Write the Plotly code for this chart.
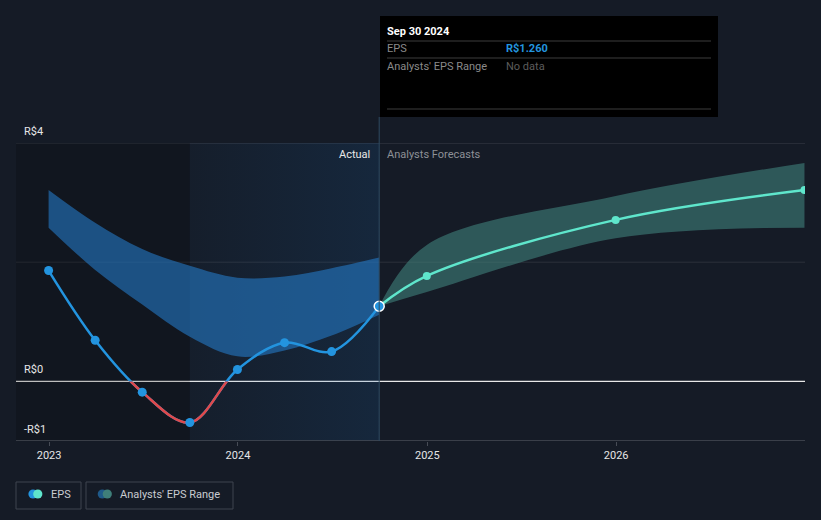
import plotly.graph_objects as go

# ---------------- data ----------------
eps_dates = ["2022-12-31", "2023-03-31", "2023-06-30", "2023-09-30",
             "2023-12-31", "2024-03-31", "2024-06-30", "2024-09-30"]
eps_values = [1.86, 0.69, -0.18, -0.69, 0.20, 0.65, 0.50, 1.26]

past_range_dates = ["2022-12-31", "2023-03-31", "2023-06-30", "2023-09-30",
                    "2023-12-31", "2024-03-31", "2024-06-30", "2024-09-30"]
past_range_high = [3.21, 2.66, 2.22, 1.94, 1.74, 1.76, 1.90, 2.08]
past_range_low = [2.58, 1.87, 1.29, 0.75, 0.42, 0.52, 0.77, 1.12]

fc_dates = ["2024-09-30", "2024-12-31", "2025-12-31", "2026-12-31"]
fc_values = [1.26, 1.77, 2.71, 3.21]
fc_high = [1.26, 2.29, 3.11, 3.665]
fc_low = [1.26, 1.50, 2.40, 2.58]

x_tick_vals = ["2023-01-01", "2024-01-01", "2025-01-01", "2026-01-01"]
x_tick_text = ["2023", "2024", "2025", "2026"]
y_label_vals = [4, 0, -1]
y_label_text = ["R$4", "R$0", "-R$1"]

x_range = ["2022-10-29", "2027-01-01"]
y_range = [-1, 4]
past_year_start = "2023-09-30"
now_date = "2024-09-30"

# ---------------- geometry helpers ----------------
W, H = 821, 520
L, R, T, B = 16, 805, 143, 441


def px(x):
    return (x - L) / (R - L)


def py(y):
    return (B - y) / (B - T)


BG = "#151b26"
BLUE = "#2394df"
RED = "#e0494b"
TEAL = "#5fe6cc"
FONT = "Roboto"
CLEAR = "rgba(0,0,0,0)"

fig = go.Figure()

# background: darker region before past year
fig.add_trace(go.Scatter(
    x=[x_range[0], past_year_start, past_year_start, x_range[0]],
    y=[y_range[0], y_range[0], y_range[1], y_range[1]],
    fill="toself", fillcolor="rgba(0,0,0,0.18)", line=dict(width=0),
    mode="lines", hoverinfo="skip", showlegend=False))
# past year highlight gradient
fig.add_trace(go.Scatter(
    x=[past_year_start, now_date, now_date, past_year_start],
    y=[y_range[0], y_range[0], y_range[1], y_range[1]],
    fill="toself", line=dict(width=0), mode="lines",
    fillgradient=dict(type="horizontal",
                      colorscale=[[0, "rgba(25,100,170,0.04)"],
                                  [1, "rgba(25,100,170,0.17)"]]),
    hoverinfo="skip", showlegend=False))

# past analyst range band
fig.add_trace(go.Scatter(x=past_range_dates, y=past_range_low, mode="lines",
                         line=dict(width=0, shape="spline"), hoverinfo="skip",
                         showlegend=False))
fig.add_trace(go.Scatter(x=past_range_dates, y=past_range_high, mode="lines",
                         line=dict(width=0, shape="spline"), fill="tonexty",
                         fillcolor="rgba(36,122,198,0.6)", hoverinfo="skip",
                         showlegend=False))

# forecast band
fig.add_trace(go.Scatter(x=fc_dates, y=fc_low, mode="lines",
                         line=dict(width=0, shape="spline"), hoverinfo="skip",
                         showlegend=False))
fig.add_trace(go.Scatter(x=fc_dates, y=fc_high, mode="lines",
                         line=dict(width=0, shape="spline"), fill="tonexty",
                         fillcolor="rgba(66,132,126,0.58)", hoverinfo="skip",
                         showlegend=False))

# EPS line (blue)
fig.add_trace(go.Scatter(x=eps_dates, y=eps_values, mode="lines",
                         line=dict(color=BLUE, width=2.5, shape="spline"),
                         hoverinfo="skip", showlegend=False))
# forecast line
fig.add_trace(go.Scatter(x=fc_dates, y=fc_values, mode="lines",
                         line=dict(color=TEAL, width=2.5, shape="spline"),
                         hoverinfo="skip", showlegend=False))

# red overlay, clipped to negative region via second subplot
fig.add_trace(go.Scatter(x=eps_dates, y=eps_values, mode="lines",
                         line=dict(color=RED, width=2.5, shape="spline"),
                         xaxis="x2", yaxis="y2", hoverinfo="skip",
                         showlegend=False))

# markers on top (third overlay subplot)
fig.add_trace(go.Scatter(x=eps_dates[:-1], y=eps_values[:-1], mode="markers",
                         marker=dict(color=BLUE, size=9),
                         xaxis="x3", yaxis="y3", hoverinfo="skip",
                         showlegend=False, cliponaxis=False))
fig.add_trace(go.Scatter(x=fc_dates[1:], y=fc_values[1:], mode="markers",
                         marker=dict(color=TEAL, size=8),
                         xaxis="x3", yaxis="y3", hoverinfo="skip",
                         showlegend=False, cliponaxis=True))
fig.add_trace(go.Scatter(x=eps_dates[-1:], y=eps_values[-1:], mode="markers",
                         marker=dict(color=BLUE, size=10,
                                     line=dict(color="white", width=1.5)),
                         xaxis="x3", yaxis="y3", hoverinfo="skip",
                         showlegend=False, cliponaxis=False))

shapes = []
# gridlines
shapes.append(dict(type="line", xref="paper", yref="y", x0=0, x1=1, y0=4, y1=4,
                   line=dict(color="#3a3f49", width=1), layer="below"))
shapes.append(dict(type="line", xref="paper", yref="y", x0=0, x1=1, y0=2, y1=2,
                   line=dict(color="#2c313b", width=1), layer="below"))
shapes.append(dict(type="line", xref="paper", yref="y", x0=0, x1=1, y0=0, y1=0,
                   line=dict(color="#e8e8e8", width=1.2), layer="below"))
shapes.append(dict(type="line", xref="paper", yref="y", x0=0, x1=1, y0=-1, y1=-1,
                   line=dict(color="#474c56", width=1.5), layer="above"))
# now vertical line
shapes.append(dict(type="line", xref="x", yref="paper", x0=now_date, x1=now_date,
                   y0=0, y1=py(117), line=dict(color="#2f4a62", width=1),
                   layer="above"))
# tooltip box
shapes.append(dict(type="rect", xref="paper", yref="paper",
                   x0=px(380), x1=px(718), y0=py(117), y1=py(16),
                   fillcolor="#000000", line=dict(width=0), layer="above"))
for yy in (41, 58, 109):
    shapes.append(dict(type="line", xref="paper", yref="paper",
                       x0=px(387), x1=px(711), y0=py(yy), y1=py(yy),
                       line=dict(color="#3c3c3c", width=1), layer="above"))
# legend boxes
for x0, x1 in ((16, 81), (86, 233)):
    shapes.append(dict(type="rect", xref="paper", yref="paper",
                       x0=px(x0), x1=px(x1), y0=py(509), y1=py(482),
                       fillcolor=CLEAR,
                       line=dict(color="#3e444e", width=1), layer="above"))


def circle(cx, cy, r, color):
    return dict(type="circle", xref="paper", yref="paper",
                x0=px(cx - r), x1=px(cx + r), y0=py(cy + r), y1=py(cy - r),
                fillcolor=color, line=dict(width=0), layer="above")


shapes.append(circle(33, 494, 4.6, BLUE))
shapes.append(circle(37.8, 494, 4.6, TEAL))
shapes.append(circle(102.3, 494, 4.6, "#1f5a8a"))
shapes.append(circle(107.3, 494, 4.6, "#3f7f7a"))

ann = []


def text(x, y, s, color, size=11, xanchor="left", bold=False):
    ann.append(dict(xref="paper", yref="paper", x=px(x), y=py(y),
                    text=f"<b>{s}</b>" if bold else s, showarrow=False,
                    xanchor=xanchor, yanchor="middle",
                    font=dict(family=FONT, size=size, color=color)))


for v, t in zip(y_label_vals, y_label_text):
    ypix = B - (v - y_range[0]) / (y_range[1] - y_range[0]) * (B - T)
    text(22, ypix - 12, t, "#e6e6e6")

text(372, 154, "Actual", "#e8e8e8", xanchor="right")
text(385, 154, "Analysts Forecasts", "#8d9096")

text(385, 31, "Sep 30 2024", "#ffffff", bold=True)
text(385, 49, "EPS", "#8a8a8a")
text(504, 49, "R$1.260", BLUE, bold=True)
text(385, 66, "Analysts' EPS Range", "#8a8a8a")
text(504, 66, "No data", "#5c5c5c")

text(49, 494.5, "EPS", "#c9ccd1")
text(118, 494.5, "Analysts' EPS Range", "#c9ccd1")

axis_common = dict(range=x_range, type="date", domain=[0, 1])
fig.update_layout(
    width=W, height=H,
    margin=dict(l=L, r=W - R, t=T, b=H - B),
    paper_bgcolor=BG, plot_bgcolor=CLEAR,
    showlegend=False, hovermode=False,
    font=dict(family=FONT, size=11, color="#e0e0e0"),
    xaxis=dict(**axis_common, tickvals=x_tick_vals, ticktext=x_tick_text,
               showgrid=False, zeroline=False, showline=False,
               ticks="outside", ticklen=4, tickcolor="#474c56",
               tickfont=dict(family=FONT, size=11, color="#e6e6e6")),
    yaxis=dict(range=y_range, domain=[0, 1], visible=False, showgrid=False,
               zeroline=False),
    xaxis2=dict(**axis_common, anchor="y2", visible=False, showgrid=False,
                zeroline=False),
    yaxis2=dict(range=[-1, 0], domain=[0, 1 / (y_range[1] - y_range[0])],
                anchor="x2", visible=False, showgrid=False, zeroline=False),
    xaxis3=dict(**axis_common, anchor="y3", visible=False, showgrid=False,
                zeroline=False),
    yaxis3=dict(range=y_range, domain=[0, 1], anchor="x3", visible=False,
                showgrid=False, zeroline=False),
    shapes=shapes, annotations=ann,
)

fig.write_html("out.html", config={"displayModeBar": False},
               post_script="document.body.style.margin='0';")
